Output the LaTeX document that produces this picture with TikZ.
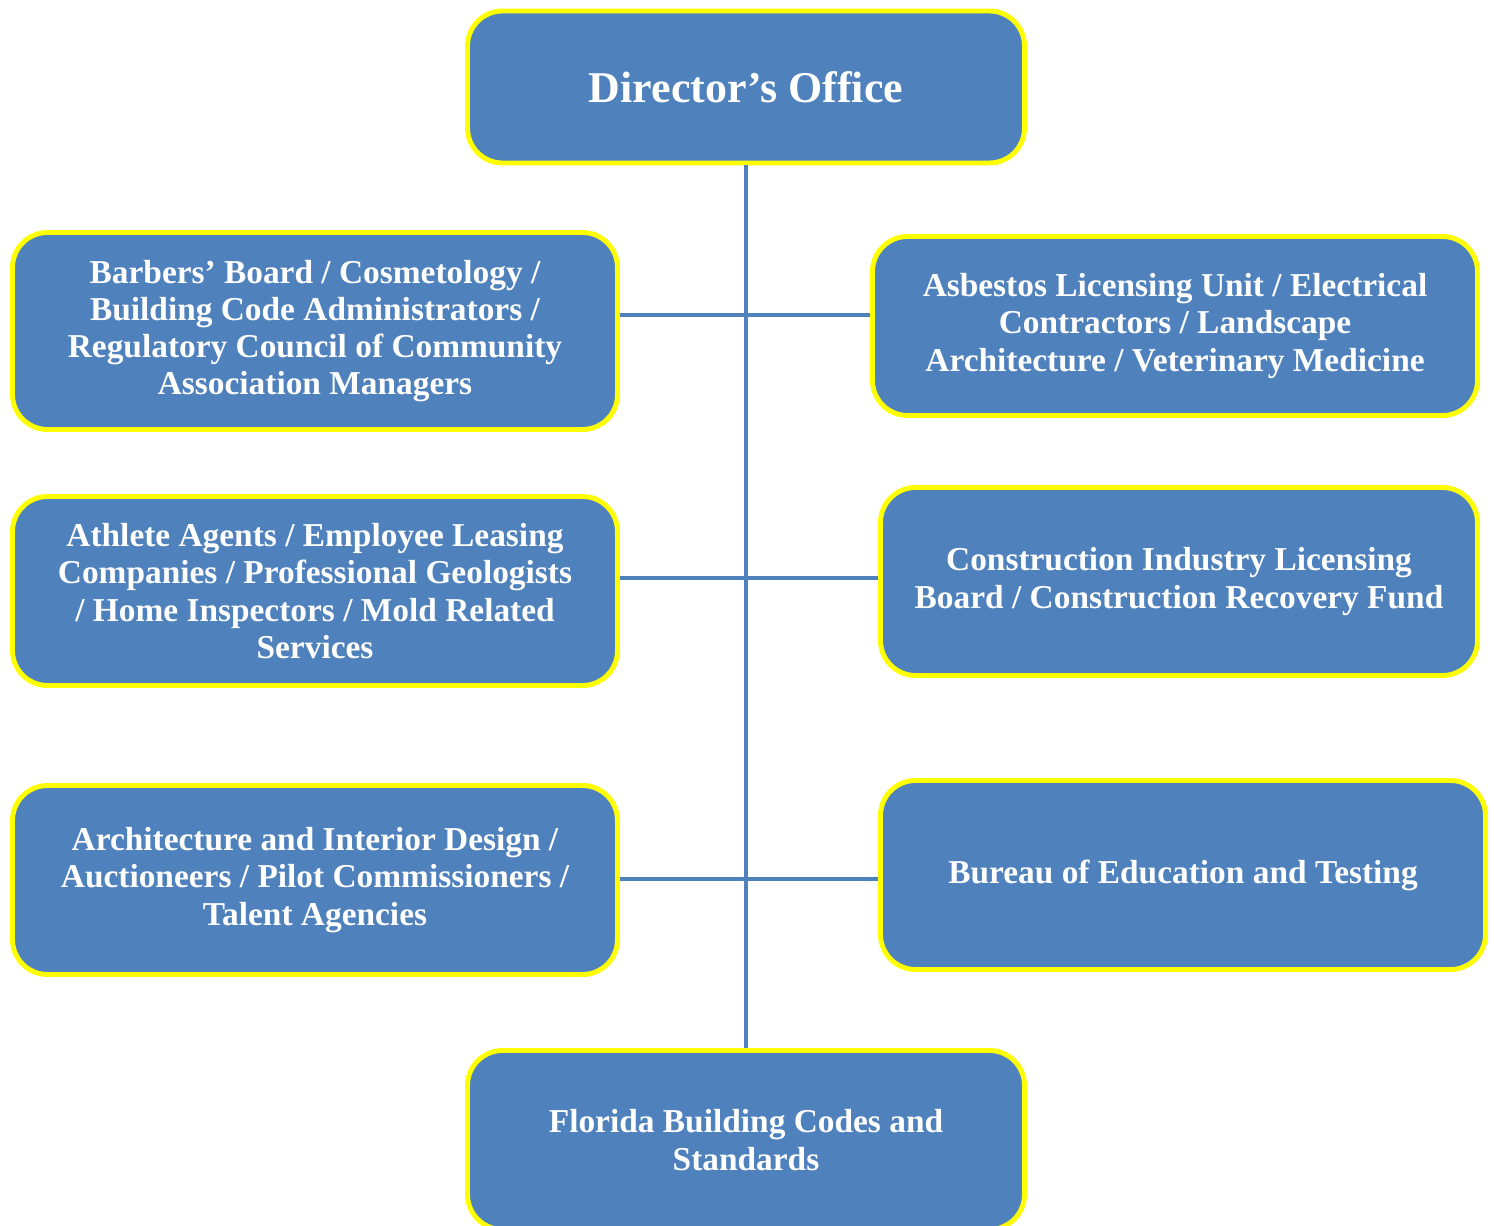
\documentclass[tikz,border=0pt]{standalone}
\usepackage{fontspec}
\setmainfont{Liberation Serif}
\definecolor{boxblue}{HTML}{4F81BD}
\definecolor{rimyellow}{HTML}{FFFF00}

\begin{document}
\begin{tikzpicture}[
  unit/.style={draw=rimyellow, line width=2.8pt, fill=boxblue, rounded corners=0.7cm,
    text=white, font=\bfseries\fontsize{19}{21.2}\selectfont, align=center, inner sep=0pt},
  link/.style={draw=boxblue, line width=2pt}]
\useasboundingbox (0,0) rectangle (29.88,-24.52);
\node[unit, minimum width=11.14cm, minimum height=3.04cm, font=\bfseries\fontsize{25}{28}\selectfont] (dir) at (14.92,-1.74) {Director’s Office};
\node[unit, minimum width=12.1cm, minimum height=3.94cm] (barb) at (6.3,-6.62) {Barbers’ Board / Cosmetology /\\Building Code Administrators /\\Regulatory Council of Community\\Association Managers};
\node[unit, minimum width=12.1cm, minimum height=3.58cm] (asb) at (23.5,-6.52) {Asbestos Licensing Unit / Electrical\\Contractors / Landscape\\Architecture / Veterinary Medicine};
\node[unit, minimum width=12.1cm, minimum height=3.78cm] (ath) at (6.3,-11.82) {Athlete Agents / Employee Leasing\\Companies / Professional Geologists\\/ Home Inspectors / Mold Related\\Services};
\node[unit, minimum width=11.94cm, minimum height=3.76cm] (cilb) at (23.58,-11.63) {Construction Industry Licensing\\Board / Construction Recovery Fund};
\node[unit, minimum width=12.1cm, minimum height=3.78cm] (arch) at (6.3,-17.6) {Architecture and Interior Design /\\Auctioneers / Pilot Commissioners /\\Talent Agencies};
\node[unit, minimum width=12.1cm, minimum height=3.78cm] (bet) at (23.66,-17.5) {Bureau of Education and Testing};
\node[unit, minimum width=11.14cm, minimum height=3.58cm] (fbc) at (14.92,-22.8) {Florida Building Codes and\\Standards};
% spine and branches
\draw[link] (dir.south) -- (fbc.north);
\draw[link] (barb.east |- 0,-6.3) -- (asb.west |- 0,-6.3);
\draw[link] (ath.east |- 0,-11.56) -- (cilb.west |- 0,-11.56);
\draw[link] (arch.east |- 0,-17.58) -- (bet.west |- 0,-17.58);
\end{tikzpicture}
\end{document}
